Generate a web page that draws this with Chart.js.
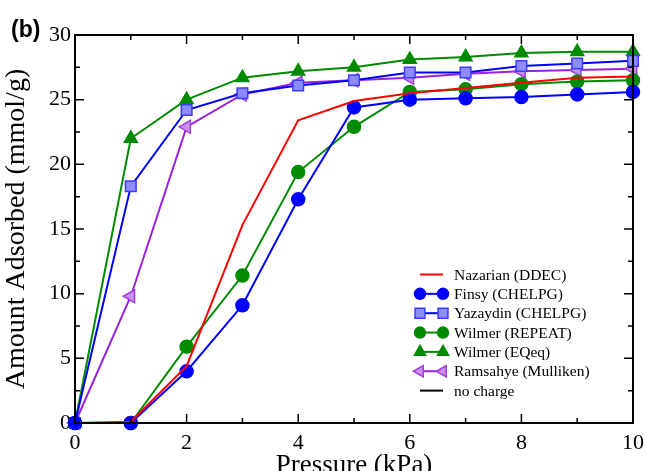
<!DOCTYPE html>
<html>
<head>
<meta charset="utf-8">
<script src="https://cdn.jsdelivr.net/npm/chart.js@4.4.1/dist/chart.umd.min.js"></script>
<style>
  html, body { margin: 0; padding: 0; background: #fff; }
  #wrap { width: 645px; height: 471px; }
</style>
</head>
<body>
<div id="wrap"><canvas id="isothermChart" width="645" height="471"></canvas></div>
<script>
// Pressure points (kPa)
const pressure = [0, 1, 2, 3, 4, 5, 6, 7, 8, 9, 10];

// Amount adsorbed (mmol/g) per charge scheme
const nazarian = [0, 0.1, 4.4, 15.3, 23.4, 24.9, 25.5, 25.9, 26.3, 26.7, 26.8];
const finsy = [0, 0, 4.0, 9.1, 17.3, 24.4, 25.0, 25.1, 25.2, 25.4, 25.6];
const yazaydin = [0, 18.3, 24.2, 25.5, 26.1, 26.5, 27.1, 27.1, 27.6, 27.8, 28.0];
const wilmerRepeat = [0, 0, 5.9, 11.4, 19.4, 22.9, 25.6, 25.8, 26.2, 26.4, 26.5];
const wilmerEqeq = [0, 22.0, 25.0, 26.7, 27.2, 27.5, 28.1, 28.3, 28.6, 28.7, 28.7];
const ramsahye = [0, 9.8, 22.9, 25.4, 26.3, 26.5, 26.7, 27.0, 27.2, 27.3, 27.4];
const noCharge = [];

// Axis ticks
const xMajor = [0, 2, 4, 6, 8, 10];
const yMajor = [0, 5, 10, 15, 20, 25, 30];

const toPoints = (ys) => ys.map((y, i) => ({ x: pressure[i], y: y }));

const serif = "'Liberation Serif', 'DejaVu Serif', serif";

// Legend drawn inside the plot, like the original figure
const insideLegend = {
  id: "insideLegend",
  afterDraw(chart) {
    const ctx = chart.ctx;
    const x0 = 420, x1 = 443, top = 274.5, step = 19.35;
    ctx.save();
    chart.data.datasets.forEach((ds, i) => {
      const y = top + i * step;
      ctx.strokeStyle = ds.borderColor;
      ctx.lineWidth = 2;
      ctx.beginPath();
      ctx.moveTo(x0, y);
      ctx.lineTo(x1, y);
      ctx.stroke();
      if (ds.pointRadius > 0) {
        [x0, x1].forEach((px) => {
          ctx.fillStyle = ds.pointBackgroundColor;
          ctx.strokeStyle = ds.pointBorderColor;
          ctx.lineWidth = ds.pointBorderWidth;
          Chart.helpers.drawPoint(ctx, {
            pointStyle: ds.pointStyle,
            rotation: ds.pointRotation || 0,
            radius: ds.legendRadius,
            borderWidth: ds.pointBorderWidth,
          }, px, y);
        });
      }
      ctx.fillStyle = "#000";
      ctx.font = "15.5px " + serif;
      ctx.textBaseline = "middle";
      ctx.textAlign = "left";
      ctx.fillText(ds.label, 454, y + 1);
    });
    ctx.restore();
  },
};

// Frame on four sides with inward ticks, plus the panel letter
const frameTicks = {
  id: "frameTicks",
  afterDatasetsDraw(chart) {
    const { ctx, chartArea: a, scales } = chart;
    ctx.save();
    ctx.strokeStyle = "#000";
    ctx.lineWidth = 1.5;
    for (let v = 0; v <= 10; v++) {
      const px = scales.x.getPixelForValue(v);
      const len = v % 2 === 0 ? 9 : 5;
      ctx.beginPath();
      ctx.moveTo(px, a.bottom); ctx.lineTo(px, a.bottom - len);
      ctx.moveTo(px, a.top); ctx.lineTo(px, a.top + len);
      ctx.stroke();
    }
    for (let v = 0; v <= 30; v += 2.5) {
      const py = scales.y.getPixelForValue(v);
      const len = v % 5 === 0 ? 9 : 5;
      ctx.beginPath();
      ctx.moveTo(a.left, py); ctx.lineTo(a.left + len, py);
      ctx.moveTo(a.right, py); ctx.lineTo(a.right - len, py);
      ctx.stroke();
    }
    ctx.lineWidth = 2;
    ctx.strokeRect(a.left, a.top, a.right - a.left, a.bottom - a.top);

    ctx.fillStyle = "#000";
    ctx.font = "bold 23px 'Liberation Sans', Arial, sans-serif";
    ctx.textBaseline = "alphabetic";
    ctx.textAlign = "left";
    ctx.fillText("(b)", 11, 37);
    ctx.restore();
  },
};

const ctx = document.getElementById("isothermChart").getContext("2d");
new Chart(ctx, {
  type: "line",
  data: {
    datasets: [
      {
        label: "Nazarian (DDEC)",
        data: toPoints(nazarian),
        borderColor: "#ff0000",
        pointRadius: 0,
      },
      {
        label: "Finsy (CHELPG)",
        data: toPoints(finsy),
        borderColor: "#0000ff",
        pointStyle: "circle",
        pointRadius: 6.5,
        legendRadius: 5.5,
        pointBackgroundColor: "#0000ff",
        pointBorderColor: "#0000ff",
      },
      {
        label: "Yazaydin (CHELPG)",
        data: toPoints(yazaydin),
        borderColor: "#0000ff",
        pointStyle: "rect",
        pointRadius: 7.5,
        legendRadius: 7,
        pointBackgroundColor: "#8c8cff",
        pointBorderColor: "#3c3cff",
      },
      {
        label: "Wilmer (REPEAT)",
        data: toPoints(wilmerRepeat),
        borderColor: "#008b00",
        pointStyle: "circle",
        pointRadius: 6.5,
        legendRadius: 5.5,
        pointBackgroundColor: "#008b00",
        pointBorderColor: "#008b00",
      },
      {
        label: "Wilmer (EQeq)",
        data: toPoints(wilmerEqeq),
        borderColor: "#008b00",
        pointStyle: "triangle",
        pointRadius: 7.5,
        legendRadius: 6.5,
        pointBackgroundColor: "#008b00",
        pointBorderColor: "#008b00",
      },
      {
        label: "Ramsahye (Mulliken)",
        data: toPoints(ramsahye),
        borderColor: "#9a20e0",
        pointStyle: "triangle",
        pointRotation: -90,
        pointRadius: 7.5,
        legendRadius: 6.5,
        pointBackgroundColor: "#c890ec",
        pointBorderColor: "#a040e0",
      },
      {
        label: "no charge",
        data: toPoints(noCharge),
        borderColor: "#000000",
        pointRadius: 0,
      },
    ].map((ds) => Object.assign({
      borderWidth: 2,
      pointBorderWidth: 1.5,
      tension: 0,
      fill: false,
      clip: false,
    }, ds)),
  },
  options: {
    responsive: false,
    animation: false,
    layout: { padding: { top: 35, right: 12, left: 0, bottom: 0 } },
    plugins: {
      legend: { display: false },
      tooltip: { enabled: false },
    },
    scales: {
      x: {
        type: "linear",
        min: 0,
        max: 10,
        afterFit: (scale) => {
          scale.height = 48;
          scale.paddingLeft = 0;
          scale.paddingRight = 0;
        },
        grid: { display: false, drawTicks: false },
        border: { display: false },
        ticks: {
          stepSize: 1,
          padding: 7,
          color: "#000",
          font: { family: serif, size: 22 },
          callback: (v) => (xMajor.includes(v) ? String(v) : ""),
        },
        title: {
          display: true,
          text: "Pressure (kPa)",
          color: "#000",
          font: { family: serif, size: 27 },
          padding: { top: 0, bottom: -11 },
        },
      },
      y: {
        min: 0,
        max: 30,
        afterFit: (scale) => {
          scale.width = 75;
          scale.paddingTop = 0;
          scale.paddingBottom = 0;
        },
        grid: { display: false, drawTicks: false },
        border: { display: false },
        ticks: {
          stepSize: 2.5,
          padding: 4,
          color: "#000",
          font: { family: serif, size: 22 },
          callback: (v) => (yMajor.includes(v) ? String(v) : ""),
        },
        title: {
          display: true,
          text: "Amount Adsorbed (mmol/g)",
          color: "#000",
          font: { family: serif, size: 28 },
          padding: { top: 0, bottom: 0 },
        },
      },
    },
  },
  plugins: [insideLegend, frameTicks],
});
</script>
</body>
</html>
